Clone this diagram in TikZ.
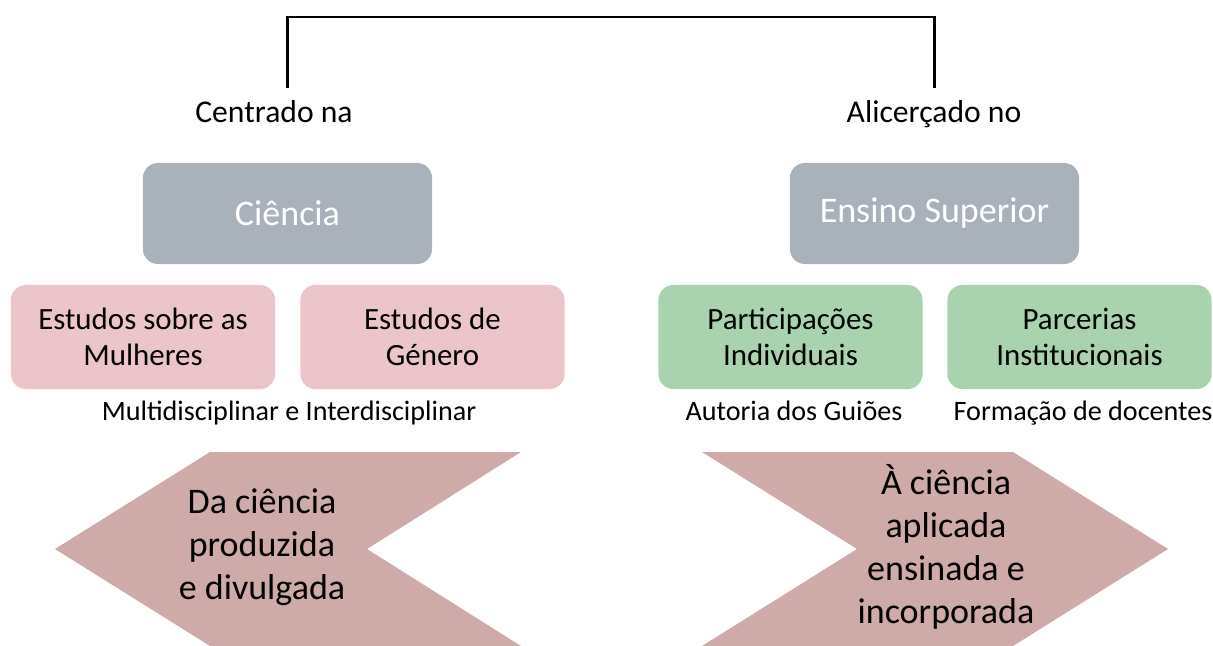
\documentclass[tikz,border=0pt]{standalone}
\usepackage{fontspec}
\setmainfont{Carlito}
\definecolor{boxgray}{RGB}{169,177,186}
\definecolor{boxpink}{RGB}{235,197,202}
\definecolor{boxgreen}{RGB}{169,211,174}
\definecolor{chevron}{RGB}{206,170,169}
\begin{document}
\begin{tikzpicture}[x=0.025cm,y=-0.025cm,inner sep=0pt,outer sep=0pt,
topbox/.style={fill=boxgray,rectangle,rounded corners=0.375cm,minimum width=7.225cm,minimum height=2.525cm,text=white,font=\fontsize{25.6}{31}\selectfont},
subbox/.style={rectangle,rounded corners=0.375cm,minimum width=6.6cm,minimum height=2.6cm,align=center,font=\fontsize{22}{26}\selectfont},
headtext/.style={anchor=base,font=\fontsize{22.5}{27}\selectfont},
subtext/.style={anchor=base,font=\fontsize{20}{24}\selectfont},
arrowtext/.style={align=center,font=\fontsize{25.6}{30.6}\selectfont}]
\useasboundingbox (0,0) rectangle (1213,646);
\fill[chevron] (210,452) -- (521,452) -- (367,549) -- (521,646) -- (210,646) -- (55,549) -- cycle;
\fill[chevron] (702,452) -- (1013,452) -- (1168,549) -- (1013,646) -- (702,646) -- (857,549) -- cycle;
\draw (274,122) node[headtext] (centrado) {Centrado na};
\draw (934,122) node[headtext] (alicercado) {Alicerçado no};
\draw (287.5,213.5) node[topbox] (ciencia) {Ciência};
\draw (934.5,213.5) node[topbox] (ensino) {Ensino Superior};
\draw (143,337) node[subbox,fill=boxpink] (mulheres) {Estudos sobre as\\Mulheres};
\draw (432.5,337) node[subbox,fill=boxpink] (genero) {Estudos de\\Género};
\draw (790.5,337) node[subbox,fill=boxgreen] (individuais) {Participações\\Individuais};
\draw (1079.5,337) node[subbox,fill=boxgreen] (institucionais) {Parcerias\\Institucionais};
\draw (289,420) node[subtext] (multi) {Multidisciplinar e Interdisciplinar};
\draw (794,420) node[subtext] (autoria) {Autoria dos Guiões};
\draw (1083,420) node[subtext] (formacao) {Formação de docentes};
\draw (262,547) node[arrowtext] (daciencia) {Da ciência\\produzida\\e divulgada};
\draw (946,547) node[arrowtext] (aciencia) {À ciência\\aplicada\\ensinada e\\incorporada};
\coordinate (brleft) at (ciencia.north |- 0,88);
\coordinate (brright) at (ensino.north |- 0,88);
\draw[line width=2pt] (brleft) -- ++(0,-71) -| (brright);
\end{tikzpicture}
\end{document}
